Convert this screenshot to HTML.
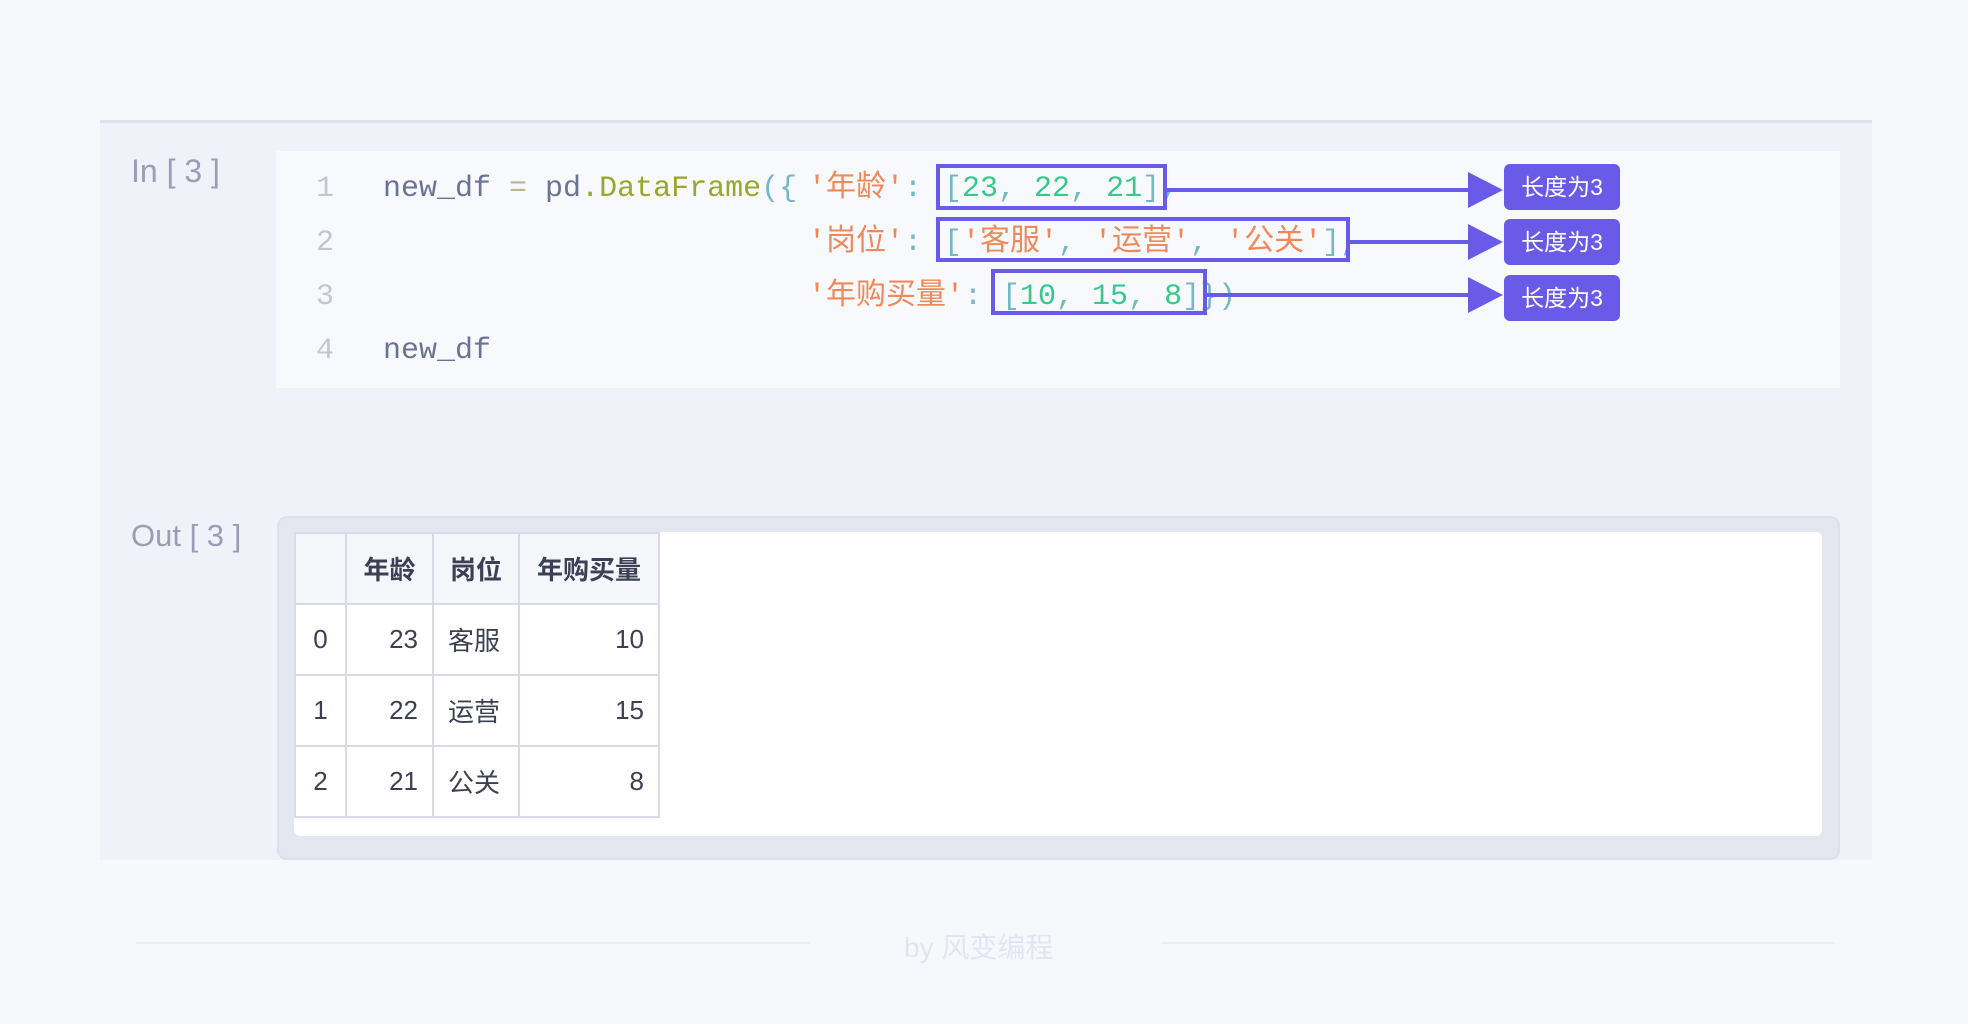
<!DOCTYPE html>
<html><head><meta charset="utf-8"><style>
*{margin:0;padding:0;box-sizing:border-box}
body{width:1968px;height:1024px;background:#f7f8fc;position:relative;overflow:hidden;font-family:"Liberation Sans","Noto Sans CJK SC",sans-serif}
.abs{position:absolute;white-space:pre}
.mono{font-family:"Liberation Mono","Noto Sans CJK SC",monospace;font-size:30px;line-height:40px}
.sl{color:#6b7394}.eq{color:#c0b48e}.ol{color:#9aa62c}.tl{color:#72b8c8}.or{color:#f0895a}.gr{color:#36c98a}
.ln{color:#c2c6d4}
.box{position:absolute;border:4px solid #6a5ae8}
.lab{position:absolute;background:#6a5ae8;color:#fff;border-radius:6px;font-size:23px;text-align:center;line-height:46px;width:116px;height:46px}
table{border-collapse:collapse;position:absolute;left:294px;top:532px;font-size:26px;color:#3d4055}
td,th{border:2px solid #d8dae6;height:71px;padding:0 14px}
th{background:#f5f6fa;font-weight:bold}
</style></head><body>
<div class="abs" style="left:100px;top:120px;width:1772px;height:740px;background:#eff2f9;border-top:3px solid #dfe2ec"></div>
<div class="abs" style="left:131px;top:153px;font-size:32px;color:#9a9db4">In [ 3 ]</div>
<div class="abs" style="left:276px;top:151px;width:1564px;height:237px;background:#f8f9fc"></div>
<div class="abs mono ln" style="left:316px;top:169px">1</div>
<div class="abs mono ln" style="left:316px;top:223px">2</div>
<div class="abs mono ln" style="left:316px;top:277px">3</div>
<div class="abs mono ln" style="left:316px;top:331px">4</div>
<div class="abs mono" style="left:383px;top:169px"><span class="sl">new_df </span><span class="eq">=</span><span class="sl"> pd</span><span class="ol">.DataFrame</span><span class="tl">({</span></div>
<div class="abs mono" style="left:808px;top:169px"><span class="or">'年龄'</span><span class="tl">:</span></div>
<div class="abs mono" style="left:944px;top:169px"><span class="tl">[</span><span class="gr">23</span><span class="tl">, </span><span class="gr">22</span><span class="tl">, </span><span class="gr">21</span><span class="tl">],</span></div>
<div class="abs mono" style="left:808px;top:223px"><span class="or">'岗位'</span><span class="tl">:</span></div>
<div class="abs mono" style="left:944px;top:223px"><span class="tl">[</span><span class="or">'客服'</span><span class="tl">, </span><span class="or">'运营'</span><span class="tl">, </span><span class="or">'公关'</span><span class="tl">],</span></div>
<div class="abs mono" style="left:808px;top:277px"><span class="or">'年购买量'</span><span class="tl">:</span></div>
<div class="abs mono" style="left:1002px;top:277px"><span class="tl">[</span><span class="gr">10</span><span class="tl">, </span><span class="gr">15</span><span class="tl">, </span><span class="gr">8</span><span class="tl">]})</span></div>
<div class="abs mono sl" style="left:383px;top:331px">new_df</div>
<div class="box" style="left:936px;top:164px;width:231px;height:46px"></div>
<div class="box" style="left:936px;top:217px;width:414px;height:45px"></div>
<div class="box" style="left:991px;top:269px;width:216px;height:46px"></div>
<svg class="abs" style="left:0;top:0" width="1968" height="1024">
<g stroke="#6a5ae8" stroke-width="4"><line x1="1167" y1="190" x2="1470" y2="190"/><line x1="1350" y1="242" x2="1470" y2="242"/><line x1="1207" y1="295" x2="1470" y2="295"/></g>
<g fill="#6a5ae8"><polygon points="1468,172 1503,190 1468,208"/><polygon points="1468,224 1503,242 1468,260"/><polygon points="1468,277 1503,295 1468,313"/></g>
</svg>
<div class="lab" style="left:1504px;top:164px">长度为3</div>
<div class="lab" style="left:1504px;top:219px">长度为3</div>
<div class="lab" style="left:1504px;top:275px">长度为3</div>
<div class="abs" style="left:131px;top:518px;font-size:31px;color:#9a9db4">Out [ 3 ]</div>
<div class="abs" style="left:277px;top:516px;width:1563px;height:344px;background:#e4e7f0;border-radius:10px;border:2px solid #dde0ea"></div>
<div class="abs" style="left:294px;top:532px;width:1528px;height:304px;background:#fff;border-radius:6px"></div>
<table>
<tr><th style="width:51px"></th><th style="width:87px">年龄</th><th style="width:86px">岗位</th><th style="width:140px">年购买量</th></tr>
<tr><td style="text-align:center">0</td><td style="text-align:right">23</td><td>客服</td><td style="text-align:right">10</td></tr>
<tr><td style="text-align:center">1</td><td style="text-align:right">22</td><td>运营</td><td style="text-align:right">15</td></tr>
<tr><td style="text-align:center">2</td><td style="text-align:right">21</td><td>公关</td><td style="text-align:right">8</td></tr>
</table>
<div class="abs" style="left:136px;top:942px;width:674px;height:2px;background:#eceef5"></div>
<div class="abs" style="left:1161px;top:942px;width:674px;height:2px;background:#eceef5"></div>
<div class="abs" style="left:904px;top:926px;font-size:28px;color:#e1e5f3">by 风变编程</div>
</body></html>
